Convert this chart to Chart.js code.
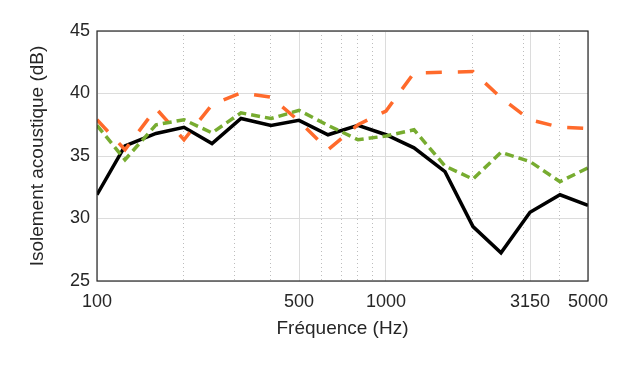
<!DOCTYPE html>
<html>
<head>
<meta charset="utf-8">
<script src="https://cdn.jsdelivr.net/npm/chart.js@4/dist/chart.umd.min.js"></script>
<style>
  html, body { margin: 0; padding: 0; background: #fff; }
  #wrap { width: 623px; height: 365px; }
</style>
</head>
<body>
<div id="wrap"><canvas id="graphe"></canvas></div>
<script>
// bandes de tiers d'octave
const frequences = [100, 125, 160, 200, 250, 315, 400, 500, 630, 800, 1000, 1250, 1600, 2000, 2500, 3150, 4000, 5000];
const isolementNoir = [31.9, 35.8, 36.8, 37.3, 36.0, 38.0, 37.45, 37.85, 36.7, 37.45, 36.7, 35.65, 33.75, 29.35, 27.25, 30.5, 31.9, 31.05];
const isolementOrange = [37.9, 35.5, 38.8, 36.3, 39.1, 40.05, 39.7, 37.8, 35.5, 37.5, 38.6, 41.65, 41.7, 41.75, 39.65, 37.9, 37.3, 37.2];
const isolementVert = [37.45, 34.7, 37.5, 37.9, 36.85, 38.45, 38.0, 38.65, 37.45, 36.3, 36.6, 37.1, 34.2, 33.15, 35.3, 34.55, 32.95, 34.05];
const ticksX = [100, 200, 300, 400, 500, 600, 700, 800, 900, 1000, 2000, 3000, 3150, 4000, 5000];
const ticksXLabels = [100, 500, 1000, 3150, 5000];

const police = 'Liberation Sans, Arial, Helvetica, sans-serif';
const gris = '#262626';

function points(valeurs) {
  return frequences.map((f, i) => ({ x: f, y: valeurs[i] }));
}

const cadre = {
  id: 'cadre',
  afterDatasetsDraw(chart) {
    const { ctx, chartArea: a } = chart;
    ctx.save();
    ctx.strokeStyle = gris;
    ctx.lineWidth = 1.2;
    ctx.strokeRect(a.left, a.top, a.right - a.left, a.bottom - a.top);
    ctx.restore();
  }
};

new Chart(document.getElementById('graphe').getContext('2d'), {
  type: 'line',
  data: {
    datasets: [
      {
        data: points(isolementNoir),
        borderColor: '#000000',
        borderWidth: 3.5,
        order: 3
      },
      {
        data: points(isolementOrange),
        borderColor: '#ff6a2b',
        borderWidth: 3.5,
        borderDash: [16, 16],
        order: 2
      },
      {
        data: points(isolementVert),
        borderColor: '#77ac30',
        borderWidth: 3.5,
        borderDash: [9, 5],
        order: 1
      }
    ]
  },
  options: {
    responsive: true,
    maintainAspectRatio: false,
    animation: false,
    layout: { padding: { top: 31, right: 35, left: 0, bottom: 0 } },
    elements: { point: { radius: 0 }, line: { tension: 0, borderCapStyle: 'butt' } },
    plugins: { legend: { display: false }, tooltip: { enabled: false } },
    scales: {
      x: {
        type: 'logarithmic',
        min: 100,
        max: 5000,
        afterBuildTicks: scale => {
          scale.ticks = ticksX.map(v => ({ value: v, major: ticksXLabels.includes(v) }));
        },
        afterFit: scale => { scale.height = 84; },
        ticks: {
          autoSkip: false,
          maxRotation: 0,
          padding: 10,
          color: gris,
          font: { family: police, size: 18 },
          callback: v => ticksXLabels.includes(v) ? String(v) : ''
        },
        grid: {
          drawTicks: false,
          lineWidth: 1,
          color: ctx => ctx.tick && ticksXLabels.includes(ctx.tick.value) ? '#dcdcdc' : '#bdbdbd'
        },
        border: {
          display: false,
          dash: ctx => ctx.tick && ticksXLabels.includes(ctx.tick.value) ? [] : [1, 3]
        },
        title: {
          display: true,
          text: 'Fréquence (Hz)',
          color: gris,
          font: { family: police, size: 19 },
          padding: { top: 0, bottom: 25 }
        }
      },
      y: {
        min: 25,
        max: 45,
        afterFit: scale => { scale.width = 97; },
        ticks: {
          stepSize: 5,
          padding: 7,
          color: gris,
          font: { family: police, size: 18 }
        },
        grid: { drawTicks: false, color: '#dcdcdc', lineWidth: 1 },
        border: { display: false },
        title: {
          display: true,
          text: 'Isolement acoustique (dB)',
          color: gris,
          font: { family: police, size: 19 },
          padding: { top: 26, bottom: 0 }
        }
      }
    }
  },
  plugins: [cadre]
});
</script>
</body>
</html>
